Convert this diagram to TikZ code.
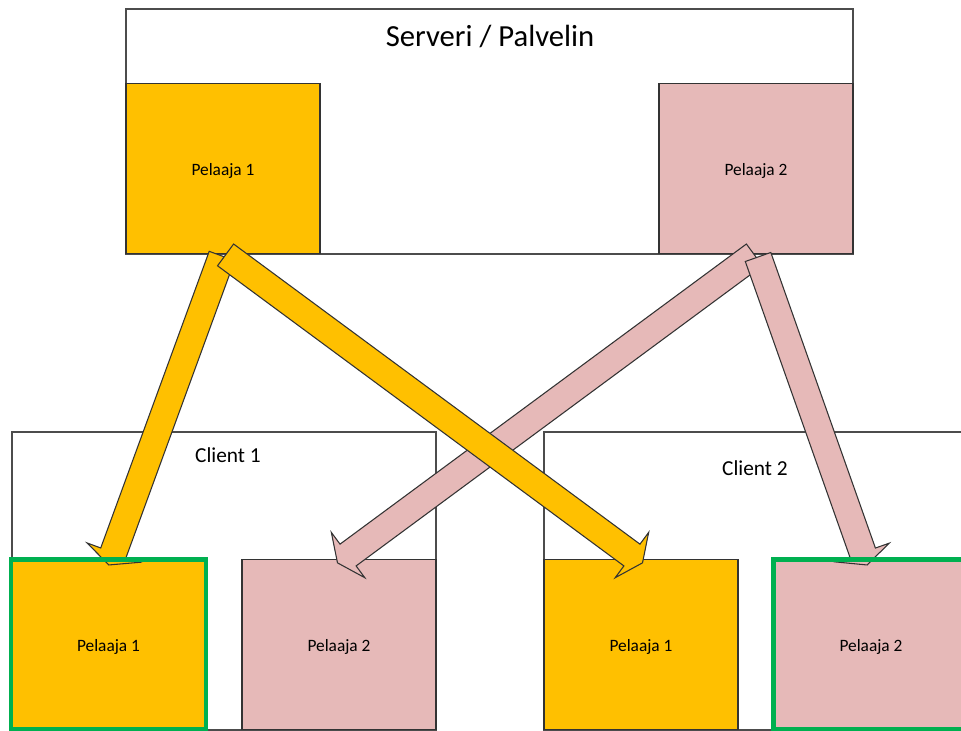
\documentclass[tikz,border=0pt]{standalone}
\usepackage{fontspec}
\setmainfont{Carlito}
\usetikzlibrary{shapes.arrows, calc}

\definecolor{pyellow}{HTML}{FFC000}
\definecolor{ppink}{HTML}{E6B9B8}
\definecolor{pgreen}{HTML}{00B050}

\tikzset{
    frame/.style={draw=black!70, line width=0.9pt, fill=white, inner sep=0pt},
    player/.style={draw=black!80, line width=0.8pt, inner sep=0pt, minimum width=145.5pt,
        minimum height=127pt, text height=11pt, text depth=0pt, font=\fontsize{13}{15}\selectfont},
    own/.style={draw=pgreen, line width=3.4pt},
    caption/.style={anchor=base, inner sep=0pt},
    sendarrow/.style={single arrow, draw=black!80, line width=0.8pt, inner xsep=0pt, inner ysep=9.75pt,
        single arrow head extend=11pt, single arrow tip angle=130}
}

% block arrow from tail to tip
\newcommand{\blockarrow}[3]{%
    \path let \p1=($(#3)-(#2)$), \n1={atan2(\y1,\x1)}, \n2={veclen(\x1,\y1)} in
        node[sendarrow, fill=#1, rotate=\n1, minimum height=\n2] at ($(#2)!0.5!(#3)$) {};
}

\begin{document}
\begin{tikzpicture}[x=0.75pt, y=-0.75pt]
    \clip (0, 0) rectangle (961, 731);
    \fill[white] (0, 0) rectangle (961, 731);

    % server
    \node[frame, minimum width=545.25pt, minimum height=183.75pt] (server) at (489.5, 131.5) {};
    \node[caption, font=\fontsize{23}{27}\selectfont] (servertitle) at (490, 47) {Serveri / Palvelin};
    \node[player, fill=pyellow] (srv1) at (223, 168.5) {Pelaaja 1};
    \node[player, fill=ppink] (srv2) at (756, 168.5) {Pelaaja 2};

    % clients
    \node[frame, minimum width=318pt, minimum height=223.5pt] (client1) at (224, 581) {};
    \node[frame, minimum width=318pt, minimum height=223.5pt] (client2) at (756, 581) {};
    \node[caption, font=\fontsize{16}{19}\selectfont] (client1title) at (228, 462) {Client 1};
    \node[caption, font=\fontsize{16}{19}\selectfont] (client2title) at (755, 475) {Client 2};

    \node[player, fill=pyellow, draw=none] (c1p1) at (108.5, 644.5) {Pelaaja 1};
    \node[player, fill=ppink] (c1p2) at (339, 644.5) {Pelaaja 2};
    \node[player, fill=pyellow] (c2p1) at (641, 644.5) {Pelaaja 1};
    \node[player, fill=ppink, draw=none] (c2p2) at (871, 644.5) {Pelaaja 2};

    % arrow ends
    \coordinate (y1from) at (223, 253);
    \coordinate (y1to) at (110, 562);
    \coordinate (y2from) at (223, 253);
    \coordinate (y2to) at (640, 561);
    \coordinate (p1from) at (757, 253);
    \coordinate (p1to) at (340, 561);
    \coordinate (p2from) at (757, 254);
    \coordinate (p2to) at (866, 562);

    \blockarrow{ppink}{p1from}{p1to}
    \blockarrow{ppink}{p2from}{p2to}
    \blockarrow{pyellow}{y1from}{y1to}
    \blockarrow{pyellow}{y2from}{y2to}

    % own player
    \draw[own] (c1p1.north west) rectangle (c1p1.south east);
    \draw[own] (c2p2.north west) rectangle (c2p2.south east);
\end{tikzpicture}
\end{document}
